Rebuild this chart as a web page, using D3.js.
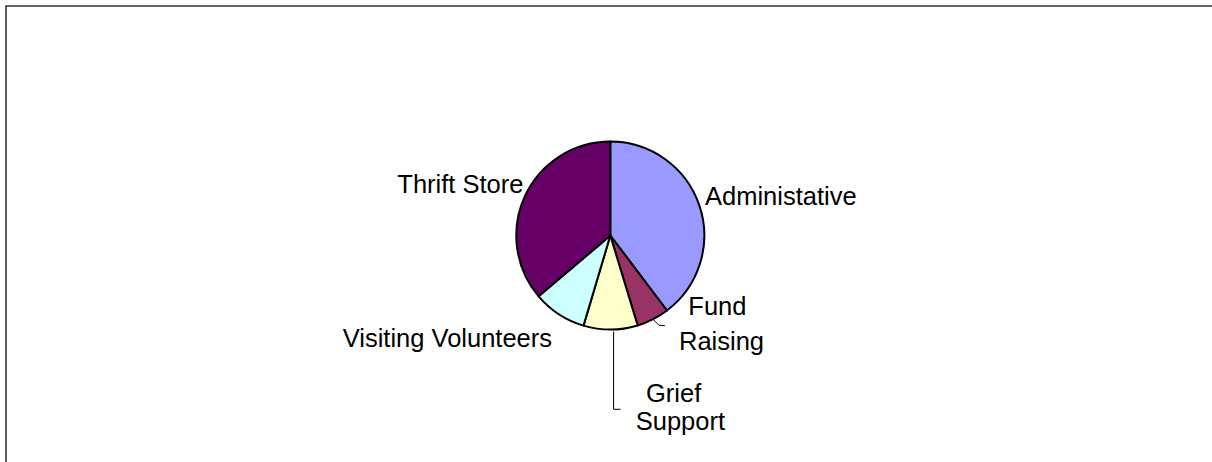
<!DOCTYPE html>
<html>
<head>
<meta charset="utf-8">
<script src="https://cdn.jsdelivr.net/npm/d3@7/dist/d3.min.js"></script>
<style>
  html, body { margin: 0; padding: 0; background: #fff; overflow: hidden; }
  svg { display: block; }
  text { font-family: "Liberation Sans", Arial, sans-serif; font-size: 25.5px; fill: #000; }
</style>
</head>
<body>
<svg id="chart" width="1212" height="462"></svg>
<script>
// ---- data ----
const categories = ["Administative", "Fund Raising", "Grief Support", "Visiting Volunteers", "Thrift Store"];
const values = [39.7, 5.6, 9.3, 9.2, 36.2];
const labelLines = [["Administative"], ["Fund", "Raising"], ["Grief", "Support"], ["Visiting Volunteers"], ["Thrift Store"]];
const colors = ["#9999FF", "#993366", "#FFFFCC", "#CCFFFF", "#660066"];

// ---- layout ----
const W = 1212, H = 462;
const cx = 610.3, cy = 235.5, R = 94;
// label placement relative to pie centre (dx of first-line left edge, dy of first baseline), line height
const labelLayout = [
  { dx: 94.7, dy: -30.5, lines: [0], lh: 0 },
  { dx: 78, dy: 79.5, lines: [0, -9.3], lh: 35 },
  { dx: 35.7, dy: 166.8, lines: [0, -10.3], lh: 27.7 },
  { dx: -267.6, dy: 111.8, lines: [0], lh: 0 },
  { dx: -213, dy: -42.5, lines: [0], lh: 0 }
];

const svg = d3.select("#chart");

// border (chart area)
svg.append("path")
  .attr("d", `M6,${H + 5} L6,6 L${W + 5},6`)
  .attr("fill", "none")
  .attr("stroke", "#333")
  .attr("stroke-width", 1.6);

const g = svg.append("g").attr("transform", `translate(${cx},${cy})`);

const pie = d3.pie().sort(null).value(d => d).startAngle(0).endAngle(2 * Math.PI);
const arcs = pie(values);
const arc = d3.arc().innerRadius(0).outerRadius(R);

g.selectAll("path.slice")
  .data(arcs)
  .enter().append("path")
  .attr("class", "slice")
  .attr("d", arc)
  .attr("fill", (d, i) => colors[i])
  .attr("stroke", "#000")
  .attr("stroke-width", 2)
  .attr("stroke-linejoin", "round");

// leader lines
function edgePoint(d, r) {
  const a = (d.startAngle + d.endAngle) / 2;
  return [r * Math.sin(a), -r * Math.cos(a)];
}
// Fund Raising leader
{
  const d = arcs[1];
  const p0 = edgePoint(d, R);
  g.append("path")
    .attr("d", `M${p0[0]},${p0[1]} L${p0[0] + 6},${p0[1] + 6} L${p0[0] + 12},${p0[1] + 6.5}`)
    .attr("fill", "none").attr("stroke", "#000").attr("stroke-width", 1);
}
// Grief Support leader
{
  const d = arcs[2];
  const p0 = edgePoint(d, R);
  const x = p0[0] + 3;
  g.append("path")
    .attr("d", `M${x},${p0[1] + 2} L${x},${labelLayout[2].dy + 7} L${x + 7},${labelLayout[2].dy + 7}`)
    .attr("fill", "none").attr("stroke", "#000").attr("stroke-width", 1);
}

// labels
labelLines.forEach((lines, i) => {
  const L = labelLayout[i];
  const t = g.append("text").attr("text-anchor", "start");
  lines.forEach((s, j) => {
    t.append("tspan")
      .attr("x", L.dx + L.lines[j])
      .attr("y", L.dy + j * L.lh)
      .text(s);
  });
});
</script>
</body>
</html>
